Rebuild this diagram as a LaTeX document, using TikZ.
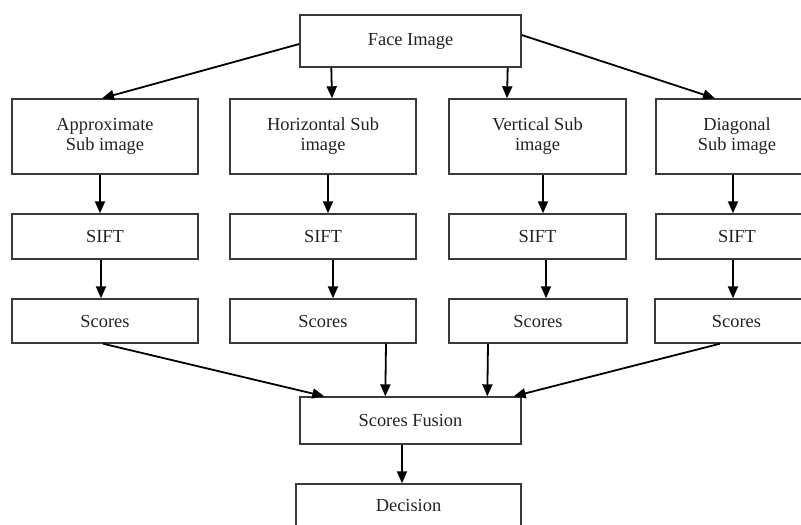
\documentclass[tikz,border=0pt]{standalone}
\usepackage{fontspec}
\setmainfont{Liberation Serif}
\usetikzlibrary{arrows.meta}
\definecolor{boxline}{HTML}{3A3A3A}
\definecolor{txt}{HTML}{222222}
\tikzset{
  blk/.style={draw=boxline, line width=1.4pt, rectangle, inner sep=0pt,
    align=center, text=txt, font=\fontsize{18.4}{20}\selectfont},
  arr/.style={-{Triangle[length=12pt,width=10pt]}, line width=1.8pt, black}
}
\begin{document}
\begin{tikzpicture}[x=1pt,y=-1pt]
\useasboundingbox (0,0) rectangle (801,525);
\clip (0,0) rectangle (801,525);
% top
\node[blk, minimum width=221pt, minimum height=52pt] (face) at (410.5,41) {Face Image};
% row 2
\node[blk, minimum width=186pt, minimum height=75pt] (approx) at (105,136.5) {Approximate\\Sub image};
\node[blk, minimum width=186pt, minimum height=75pt] (horiz) at (323,136.5) {Horizontal Sub\\image};
\node[blk, minimum width=177pt, minimum height=75pt] (vert) at (537.5,136.5) {Vertical Sub\\image};
\node[blk, minimum width=162pt, minimum height=75pt] (diag) at (737,136.5) {Diagonal\\Sub image};
% SIFT row
\node[blk, minimum width=186pt, minimum height=45pt] (sift1) at (105,236.5) {SIFT};
\node[blk, minimum width=186pt, minimum height=45pt] (sift2) at (323,236.5) {SIFT};
\node[blk, minimum width=177pt, minimum height=45pt] (sift3) at (537.5,236.5) {SIFT};
\node[blk, minimum width=162pt, minimum height=45pt] (sift4) at (737,236.5) {SIFT};
% Scores row
\node[blk, minimum width=186pt, minimum height=44pt] (sc1) at (105,321) {Scores};
\node[blk, minimum width=186pt, minimum height=44pt] (sc2) at (323,321) {Scores};
\node[blk, minimum width=178pt, minimum height=44pt] (sc3) at (538,321) {Scores};
\node[blk, minimum width=163pt, minimum height=44pt] (sc4) at (736.5,321) {Scores};
% fusion and decision
\node[blk, minimum width=221pt, minimum height=47pt] (fus) at (410.5,420.5) {Scores Fusion};
\node[blk, minimum width=225pt, minimum height=42pt] (dec) at (408.5,505) {Decision};
% arrows from face
\draw[arr] ([yshift=-3pt]face.west) -- ([xshift=-3pt]approx.north);
\draw[arr] ([xshift=32pt]face.south west) -- ([xshift=9pt]horiz.north);
\draw[arr] ([xshift=-14pt]face.south east) -- ([xshift=-30.5pt]vert.north);
\draw[arr] ([yshift=6pt]face.east) -- ([xshift=-22pt]diag.north);
% row 2 to SIFT
\draw[arr] ([xshift=-5pt]approx.south) -- ([xshift=-5pt]sift1.north);
\draw[arr] ([xshift=5pt]horiz.south) -- ([xshift=5pt]sift2.north);
\draw[arr] ([xshift=5.5pt]vert.south) -- ([xshift=5.5pt]sift3.north);
\draw[arr] ([xshift=-4pt]diag.south) -- ([xshift=-4pt]sift4.north);
% SIFT to Scores
\draw[arr] ([xshift=-4pt]sift1.south) -- ([xshift=-4pt]sc1.north);
\draw[arr] ([xshift=10pt]sift2.south) -- ([xshift=10pt]sc2.north);
\draw[arr] ([xshift=8.5pt]sift3.south) -- ([xshift=8pt]sc3.north);
\draw[arr] ([xshift=-4pt]sift4.south) -- ([xshift=-3.5pt]sc4.north);
% Scores to fusion
\draw[arr] ([xshift=-2pt]sc1.south) -- ([xshift=25pt]fus.north west);
\draw[arr] ([xshift=63pt]sc2.south) -- ([xshift=86pt]fus.north west);
\draw[arr] ([xshift=-50pt]sc3.south) -- ([xshift=188pt]fus.north west);
\draw[arr] ([xshift=-16.5pt]sc4.south) -- ([xshift=-8pt]fus.north east);
% fusion to decision
\draw[arr] ([xshift=-8.5pt]fus.south) -- ([xshift=-6.5pt]dec.north);
\end{tikzpicture}
\end{document}
